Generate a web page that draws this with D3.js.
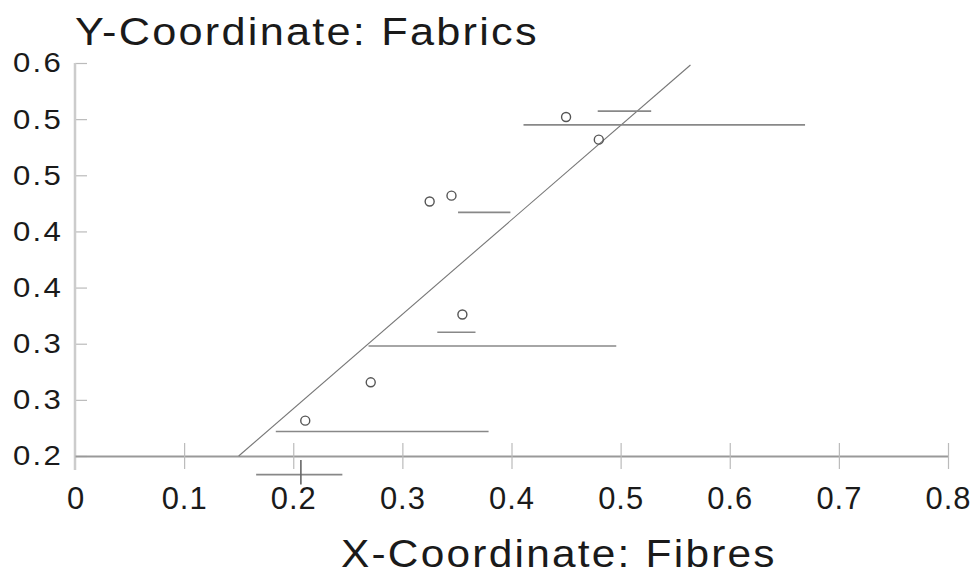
<!DOCTYPE html>
<html>
<head>
<meta charset="utf-8">
<script src="https://cdn.jsdelivr.net/npm/d3@7"></script>
<style>
  body { margin: 0; background: #fff; }
  text { font-family: "Liberation Sans", Arial, sans-serif; fill: #1a1a1a; }
</style>
</head>
<body>
<div id="root"></div>
<script>
const WIDTH = 979;
const HEIGHT = 576;

// fitted line
const lineX = [0.15, 0.564];
const lineY = [0.2, 0.598];

// points
const pointX = [0.45, 0.48, 0.325, 0.345, 0.355, 0.271, 0.211];
const pointY = [0.545, 0.522, 0.459, 0.465, 0.344, 0.275, 0.236];

// horizontal bars
const barY = [0.537, 0.551, 0.448, 0.326, 0.312, 0.225, 0.181];
const barX0 = [0.411, 0.479, 0.351, 0.332, 0.269, 0.184, 0.166];
const barX1 = [0.669, 0.528, 0.399, 0.367, 0.496, 0.379, 0.245];

// vertical bar
const vbarX = [0.207];
const vbarY0 = [0.196];
const vbarY1 = [0.171];

const xTicks = [0, 0.1, 0.2, 0.3, 0.4, 0.5, 0.6, 0.7, 0.8];
const xTickLabels = ["0", "0.1", "0.2", "0.3", "0.4", "0.5", "0.6", "0.7", "0.8"];
const yTicks = d3.range(8).map(i => 0.2 + i * 0.4 / 7);
const yTickLabels = ["0.2", "0.3", "0.3", "0.4", "0.4", "0.5", "0.5", "0.6"];

const xScale = d3.scaleLinear().domain([0, 0.8]).range([75, 948]);
const yScale = d3.scaleLinear().domain([0.2, 0.6]).range([456, 63]);

const svg = d3.select("#root")
    .append("svg")
    .attr("width", WIDTH)
    .attr("height", HEIGHT);

// stretch a text horizontally so it spans `width`, keeping its anchor point
function fitText(node, width) {
    const t = d3.select(node);
    const w = node.getComputedTextLength();
    const x = +t.attr("x") || 0;
    const s = width / w;
    t.attr("transform", `translate(${x},0) scale(${s},1) translate(${-x},0)`);
}

// y axis
const yAxis = d3.axisLeft(yScale)
    .tickValues(yTicks)
    .tickFormat((d, i) => yTickLabels[i])
    .tickSizeInner(-12)
    .tickSizeOuter(0)
    .tickPadding(12);

const yAxisG = svg.append("g")
    .attr("transform", "translate(75,0)")
    .call(yAxis);
yAxisG.select(".domain").remove();
yAxisG.append("line")
    .attr("x1", 0).attr("x2", 0)
    .attr("y1", yScale(0.6)).attr("y2", yScale(0.2) + 14)
    .attr("stroke", "#ccc").attr("stroke-width", 2.5);
yAxisG.selectAll(".tick line").attr("stroke", "#bbb").attr("stroke-width", 1.2);
yAxisG.selectAll(".tick text")
    .attr("font-size", 28)
    .attr("fill", "#1a1a1a")
    .each(function() {
        d3.select(this).style("letter-spacing", "2px").attr("x", -12);
        fitText(this, 50);
    });

// x axis
const xAxis = d3.axisBottom(xScale)
    .tickValues(xTicks)
    .tickFormat((d, i) => xTickLabels[i])
    .tickSizeInner(13)
    .tickSizeOuter(0)
    .tickPadding(18);

const xAxisG = svg.append("g")
    .attr("transform", `translate(0,${yScale(0.2)})`)
    .call(xAxis);
xAxisG.select(".domain").attr("stroke", "#999").attr("stroke-width", 2);
xAxisG.selectAll(".tick line")
    .attr("y1", -13)
    .attr("stroke", d => d === 0 ? "none" : "#bbb")
    .attr("stroke-width", 1.2);
xAxisG.selectAll(".tick text")
    .attr("font-size", 31)
    .attr("fill", "#1a1a1a")
    .attr("dy", "0.72em")
    .each(function(d, i) {
        if (xTickLabels[i].length > 1) {
            d3.select(this).style("letter-spacing", "1px");
            fitText(this, 46);
        }
    });

// fitted line
svg.append("line")
    .attr("x1", xScale(lineX[0])).attr("y1", yScale(lineY[0]))
    .attr("x2", xScale(lineX[1])).attr("y2", yScale(lineY[1]))
    .attr("stroke", "#777").attr("stroke-width", 1.1);

// horizontal bars
svg.selectAll(".hbar")
    .data(barY)
    .enter()
    .append("line")
    .attr("class", "hbar")
    .attr("x1", (d, i) => xScale(barX0[i]))
    .attr("x2", (d, i) => xScale(barX1[i]))
    .attr("y1", d => yScale(d))
    .attr("y2", d => yScale(d))
    .attr("stroke", "#888").attr("stroke-width", 1.6);

// vertical bar
svg.selectAll(".vbar")
    .data(vbarX)
    .enter()
    .append("line")
    .attr("class", "vbar")
    .attr("x1", d => xScale(d))
    .attr("x2", d => xScale(d))
    .attr("y1", (d, i) => yScale(vbarY0[i]))
    .attr("y2", (d, i) => yScale(vbarY1[i]))
    .attr("stroke", "#666").attr("stroke-width", 1.6);

// points
svg.selectAll(".point")
    .data(pointX)
    .enter()
    .append("circle")
    .attr("class", "point")
    .attr("cx", d => xScale(d))
    .attr("cy", (d, i) => yScale(pointY[i]))
    .attr("r", 4.5)
    .attr("fill", "none")
    .attr("stroke", "#555")
    .attr("stroke-width", 1.4);

// titles
const yTitle = svg.append("text")
    .attr("x", 75).attr("y", 45)
    .attr("font-size", 39)
    .style("letter-spacing", "2px")
    .text("Y-Coordinate: Fabrics");
fitText(yTitle.node(), 464);

const xTitle = svg.append("text")
    .attr("x", 341).attr("y", 567)
    .attr("font-size", 38)
    .style("letter-spacing", "2px")
    .text("X-Coordinate: Fibres");
fitText(xTitle.node(), 436);
</script>
</body>
</html>
